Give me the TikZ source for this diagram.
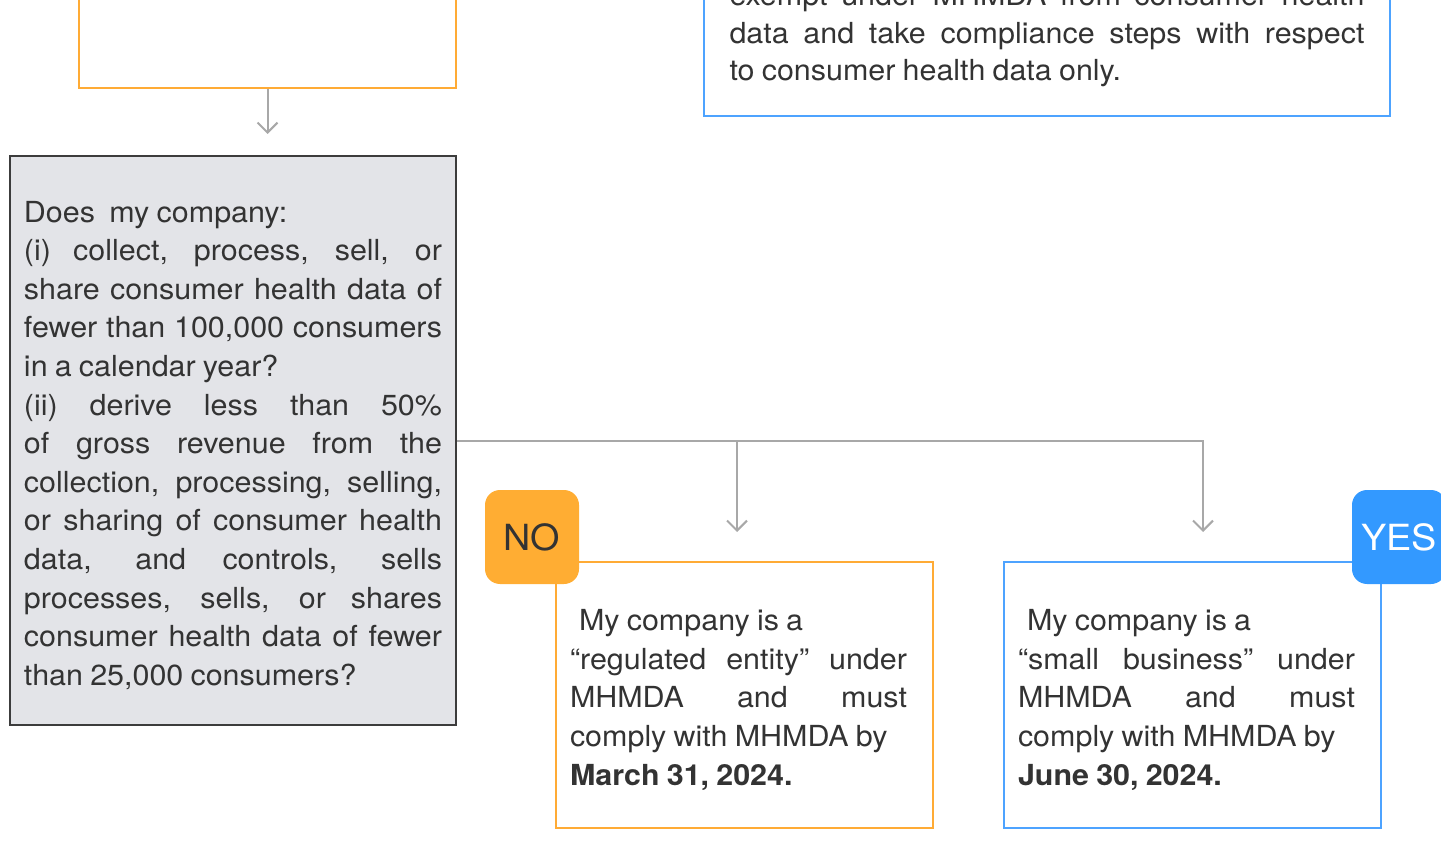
\documentclass[tikz,border=0pt]{standalone}
\usepackage{fontspec}
\setmainfont[FakeStretch=1.05, WordSpace={0.85,1.2,1.5}]{TeX Gyre Heros}
\usetikzlibrary{arrows.meta}

% Couleurs du schéma
\definecolor{orangecadre}{HTML}{FFAB35}
\definecolor{orangebadge}{HTML}{FFAD33}
\definecolor{bleucadre}{HTML}{4DA3FF}
\definecolor{bleubadge}{HTML}{3399FF}
\definecolor{grisfond}{HTML}{E3E4E8}
\definecolor{grisbord}{HTML}{3C3C3C}
\definecolor{grisfleche}{HTML}{A8A8A8}
\definecolor{texte}{HTML}{333333}

\hyphenpenalty=10000
\exhyphenpenalty=10000

% Étai invisible : descend un peu le texte dans les cadres
\newcommand{\etai}{\rule{0pt}{15.4pt}}
% Texte justifié des cadres de réponse, avec une marge droite plus large
\newcommand{\reponse}[1]{\parbox{168.5pt}{#1}\hspace*{6pt}}

\begin{document}
\begin{tikzpicture}[x=0.5pt, y=-0.5pt,
    font=\fontsize{14.5}{19.3}\selectfont, text=texte,
    cadre/.style={draw, line width=1pt, inner xsep=7pt, inner ysep=0pt, align=justify},
    badge/.style={rounded corners=7.5pt, minimum size=47pt, inner sep=0pt,
        font=\fontsize{18}{20}\selectfont},
    lien/.style={draw=grisfleche, line width=1pt},
    fleche/.style={lien, -{Straight Barb[length=5pt, width=10pt]}}]

    % Cadre de la page (coupe ce qui dépasse)
    \useasboundingbox (0,0) rectangle (1441,861);
    \clip (0,0) rectangle (1441,861);

    % ==============================================
    % 1. ÉTAGE DU HAUT
    % ==============================================
    \node[cadre, draw=orangecadre, minimum width=188.5pt, minimum height=100pt,
        anchor=south] (etape) at (267.5,89) {};

    \node[cadre, draw=bleucadre, text width=317.5pt, inner xsep=12.75pt, inner ysep=14.5pt,
        font=\fontsize{14.5}{18.75}\selectfont, anchor=south] (exempt) at (1047,117)
        {exempt under MHMDA from consumer health\linebreak
         data and take compliance steps with respect\linebreak
         to consumer health data only.};

    % ==============================================
    % 2. QUESTION
    % ==============================================
    \node[cadre, draw=grisbord, fill=grisfond, text width=209pt,
        minimum height=284.5pt] (question) at (233,440.5)
        {\etai Does\ \ my company:\\
         (i) collect, process, sell, or\linebreak
         share consumer health data of\linebreak
         fewer than 100,000 consumers\linebreak
         in a calendar year?\\
         (ii) derive less than 50\%\linebreak
         of gross revenue from the\linebreak
         collection, processing, selling,\linebreak
         or sharing of consumer health\linebreak
         data, and controls, sells\linebreak
         processes, sells, or shares\linebreak
         consumer health data of fewer\linebreak
         than 25,000 consumers?};

    \draw[fleche, shorten >=10.5pt] (etape.south) -- (etape.south |- question.north);

    % ==============================================
    % 3. RÉPONSES : NON à gauche, OUI à droite
    % ==============================================
    \coordinate (versnon) at (737,532);
    \coordinate (versoui) at (1203,532);
    \draw[fleche] (question.east) -| (versoui);
    \draw[fleche] (question.east -| versnon) -- (versnon);

    \node[cadre, draw=orangecadre, minimum width=188.5pt, minimum height=133pt]
        (entite) at (744.5,695)
        {\reponse{\etai\hspace*{4.5pt}My company is a\\
         “regulated entity” under\linebreak
         MHMDA and must\linebreak
         comply with MHMDA by\\
         \textbf{March 31, 2024.}}};

    \node[cadre, draw=bleucadre, minimum width=188.5pt, minimum height=133pt]
        (petite) at (1192.5,695)
        {\reponse{\etai\hspace*{4.5pt}My company is a\\
         “small business” under\linebreak
         MHMDA and must\linebreak
         comply with MHMDA by\\
         \textbf{June 30, 2024.}}};

    % Pastilles posées sur les coins
    \node[badge, fill=orangebadge] (non) at (532,537) {NO};
    \node[badge, fill=bleubadge, text=white] (oui) at (1399,537) {YES};

\end{tikzpicture}
\end{document}
